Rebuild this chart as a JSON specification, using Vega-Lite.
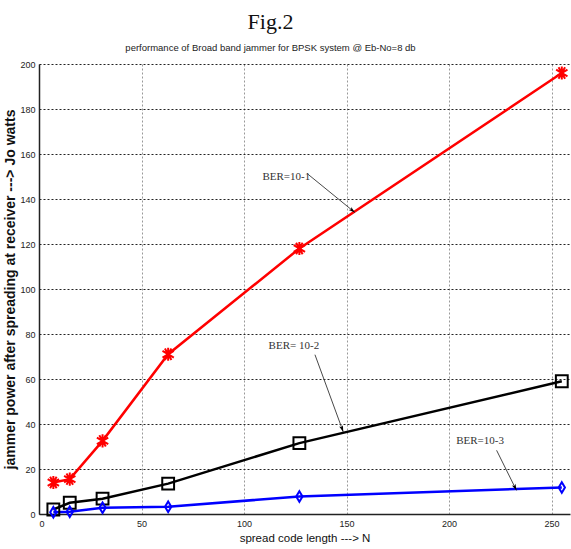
{
  "$schema": "https://vega.github.io/schema/vega-lite/v6.json",
  "autosize": {"type": "none"},
  "padding": {"left": 39, "top": 64, "right": 1, "bottom": 35},
  "width": 531,
  "height": 450,
  "background": "white",
  "config": {
    "view": {"stroke": null},
    "axis": {
      "labelFont": "Liberation Sans Narrow, Liberation Sans",
      "labelFontSize": 9,
      "labelColor": "#222",
      "titleFont": "Liberation Sans",
      "titleFontWeight": "bold",
      "titleColor": "#111",
      "domainColor": "#222",
      "domainWidth": 1.5,
      "ticks": false
    }
  },
  "title": {
    "text": "Fig.2",
    "subtitle": "performance of Broad band jammer for BPSK system @ Eb-No=8 db",
    "font": "Liberation Serif",
    "fontSize": 22,
    "fontWeight": "normal",
    "color": "#111",
    "subtitleFont": "Liberation Sans",
    "subtitleFontSize": 9.5,
    "subtitleColor": "#222",
    "subtitlePadding": 9,
    "anchor": "middle",
    "dx": -34,
    "offset": 7
  },
  "datasets": {
    "series": [
      {"N": 7, "power": 14, "ber": "BER=10-1"},
      {"N": 15, "power": 15.5, "ber": "BER=10-1"},
      {"N": 31, "power": 32.5, "ber": "BER=10-1"},
      {"N": 63, "power": 71, "ber": "BER=10-1"},
      {"N": 127, "power": 118, "ber": "BER=10-1"},
      {"N": 255, "power": 196, "ber": "BER=10-1"},
      {"N": 7, "power": 2, "ber": "BER=10-2"},
      {"N": 15, "power": 5, "ber": "BER=10-2"},
      {"N": 31, "power": 6.8, "ber": "BER=10-2"},
      {"N": 63, "power": 13.5, "ber": "BER=10-2"},
      {"N": 127, "power": 31.5, "ber": "BER=10-2"},
      {"N": 255, "power": 59, "ber": "BER=10-2"},
      {"N": 7, "power": 0.8, "ber": "BER=10-3"},
      {"N": 15, "power": 1, "ber": "BER=10-3"},
      {"N": 31, "power": 2.8, "ber": "BER=10-3"},
      {"N": 63, "power": 3.2, "ber": "BER=10-3"},
      {"N": 127, "power": 7.8, "ber": "BER=10-3"},
      {"N": 255, "power": 11.8, "ber": "BER=10-3"}
    ],
    "notes": [
      {"label": "BER=10-1", "x": 109, "y": 150},
      {"label": "BER= 10-2", "x": 112, "y": 74.5},
      {"label": "BER=10-3", "x": 203.5, "y": 32.3}
    ],
    "arrows": [
      {"x": 130.8, "y": 151.3, "x2": 154.1, "y2": 134.0, "angle": 129},
      {"x": 134.6, "y": 70.8, "x2": 148.4, "y2": 36.5, "angle": 160},
      {"x": 223.2, "y": 28.3, "x2": 232.9, "y2": 10.5, "angle": 154}
    ]
  },
  "layer": [
    {
      "mark": {"type": "rule", "color": "#222", "strokeWidth": 1.5},
      "encoding": {"y": {"datum": 200, "type": "quantitative", "scale": {"domain": [0, 200]}}}
    },
    {
      "data": {"name": "series"},
      "mark": {"type": "line", "strokeWidth": 2.5},
      "encoding": {
        "x": {
          "field": "N", "type": "quantitative",
          "scale": {"domain": [0, 259], "nice": false, "zero": false},
          "axis": {
            "values": [0, 50, 100, 150, 200, 250],
            "title": "spread code length ---> N",
            "titleFontSize": 11.5,
            "titleFontWeight": "normal",
            "titlePadding": 4,
            "labelPadding": 5,
            "grid": true,
            "gridColor": "#999",
            "gridDash": [2, 2],
            "gridWidth": 1
          }
        },
        "y": {
          "field": "power", "type": "quantitative",
          "scale": {"domain": [0, 200], "nice": false},
          "axis": {
            "values": [0, 20, 40, 60, 80, 100, 120, 140, 160, 180, 200],
            "title": "jammer power after spreading at receiver ---> Jo watts",
            "titleFontSize": 14,
            "titlePadding": 2,
            "labelPadding": 4,
            "grid": true,
            "gridColor": "#222",
            "gridDash": [2, 2],
            "gridWidth": 1
          }
        },
        "color": {
          "field": "ber", "type": "nominal",
          "scale": {"domain": ["BER=10-1", "BER=10-2", "BER=10-3"], "range": ["#ff0000", "#000000", "#0000ff"]},
          "legend": null
        }
      }
    },
    {
      "data": {"name": "series"},
      "mark": {"type": "point", "filled": false, "strokeWidth": 2, "opacity": 1},
      "encoding": {
        "x": {"field": "N", "type": "quantitative"},
        "y": {"field": "power", "type": "quantitative"},
        "color": {"field": "ber", "type": "nominal", "legend": null},
        "shape": {
          "field": "ber", "type": "nominal",
          "scale": {
            "domain": ["BER=10-1", "BER=10-2", "BER=10-3"],
            "range": [
              "M0,-1L0,1M-0.87,-0.5L0.87,0.5M-0.87,0.5L0.87,-0.5M-0.5,-0.87L0.5,0.87M-0.5,0.87L0.5,-0.87",
              "square",
              "M0,-1L0.6,0L0,1L-0.6,0Z"
            ]
          },
          "legend": null
        },
        "size": {
          "field": "ber", "type": "nominal",
          "scale": {"domain": ["BER=10-1", "BER=10-2", "BER=10-3"], "range": [170, 110, 210]},
          "legend": null
        }
      }
    },
    {
      "data": {"name": "arrows"},
      "mark": {"type": "rule", "color": "#333", "strokeWidth": 0.9},
      "encoding": {
        "x": {"field": "x", "type": "quantitative"},
        "y": {"field": "y", "type": "quantitative"},
        "x2": {"field": "x2"},
        "y2": {"field": "y2"}
      }
    },
    {
      "data": {"name": "arrows"},
      "mark": {"type": "point", "filled": true, "color": "#000", "shape": "M0,0L-0.5,1.6L0,1.2L0.5,1.6Z", "size": 64, "opacity": 1},
      "encoding": {
        "x": {"field": "x2", "type": "quantitative"},
        "y": {"field": "y2", "type": "quantitative"},
        "angle": {"field": "angle", "type": "quantitative", "scale": null}
      }
    },
    {
      "data": {"name": "notes"},
      "mark": {"type": "text", "font": "Liberation Serif", "fontSize": 11, "color": "#333", "align": "left", "baseline": "middle"},
      "encoding": {
        "x": {"field": "x", "type": "quantitative"},
        "y": {"field": "y", "type": "quantitative"},
        "text": {"field": "label"}
      }
    }
  ]
}
